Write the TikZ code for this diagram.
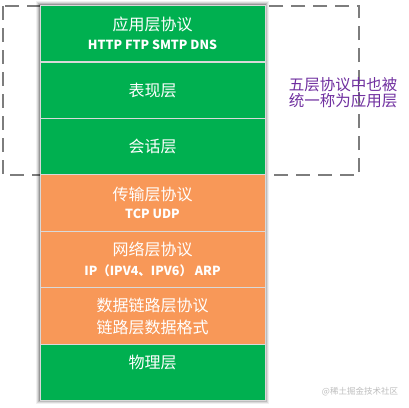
\documentclass[tikz,border=0pt]{standalone}
\usepackage{fontspec}
\setmainfont{Noto Sans CJK SC}
\definecolor{lgreen}{RGB}{0,176,80}
\definecolor{lorange}{RGB}{248,152,88}
\definecolor{lpurple}{RGB}{112,48,160}
\definecolor{dashgray}{RGB}{125,125,125}
\definecolor{wmgray}{RGB}{190,190,190}
\begin{document}
\begin{tikzpicture}[x=1pt,y=-1pt,
  layerbox/.style={draw=gray!30, line width=1.2pt, inner sep=0pt, minimum width=225pt, minimum height=56.43pt, anchor=north west},
  greenlayer/.style={layerbox, fill=lgreen},
  orangelayer/.style={layerbox, fill=lorange},
  titletext/.style={text=white, font=\fontsize{16}{18}\selectfont, inner sep=0pt},
  subtext/.style={text=white, font=\bfseries\fontsize{12.5}{15}\selectfont, inner sep=0pt},
  notetext/.style={text=lpurple, font=\fontsize{15.5}{17}\selectfont, inner sep=0pt},
  wmtext/.style={text=wmgray, font=\fontsize{8.5}{10}\selectfont, inner sep=0pt}]
\useasboundingbox[fill=white] (0,0) rectangle (409,407);
% dashed grouping rectangle
\draw[dashgray, line width=2pt, dash pattern=on 14pt off 8pt] (3,6) rectangle (359,175);
% soft shadow around the stack
\foreach \d/\o in {4/0.06,3/0.09,2/0.13,1/0.2}
  \fill[black, opacity=\o] (40-\d,5-\d) rectangle (265+\d,400+\d);
% layers
\node[greenlayer] (app) at (40,5) {};
\node[greenlayer] (pres) at (40,61.43) {};
\node[greenlayer] (sess) at (40,117.86) {};
\node[orangelayer] (trans) at (40,174.29) {};
\node[orangelayer] (net) at (40,230.71) {};
\node[orangelayer] (link) at (40,287.14) {};
\node[greenlayer] (phys) at (40,343.57) {};
% texts
\node[titletext] (appt) at (152.5,24.5) {应用层协议};
\node[subtext] (apps) at (152.5,45) {HTTP FTP SMTP DNS};
\node[titletext] (prest) at (152.5,90) {表现层};
\node[titletext] (sesst) at (152.5,146.5) {会话层};
\node[titletext] (transt) at (152.5,194.5) {传输层协议};
\node[subtext] (transs) at (152.5,214) {TCP UDP};
\node[titletext] (nett) at (152.5,249.5) {网络层协议};
\node[subtext] (nets) at (152.5,270.5) {IP（IPV4、IPV6） ARP};
\node[titletext] (linkt) at (152.5,305.5) {数据链路层协议};
\node[titletext] (links) at (152.5,327.5) {链路层数据格式};
\node[titletext] (physt) at (152.5,362.5) {物理层};
% note
\node[notetext] (note1) at (343,85) {五层协议中也被};
\node[notetext] (note2) at (343,100.5) {统一称为应用层};
% watermark
\node[wmtext] (wm) at (360,392) {@稀土掘金技术社区};
\end{tikzpicture}
\end{document}
